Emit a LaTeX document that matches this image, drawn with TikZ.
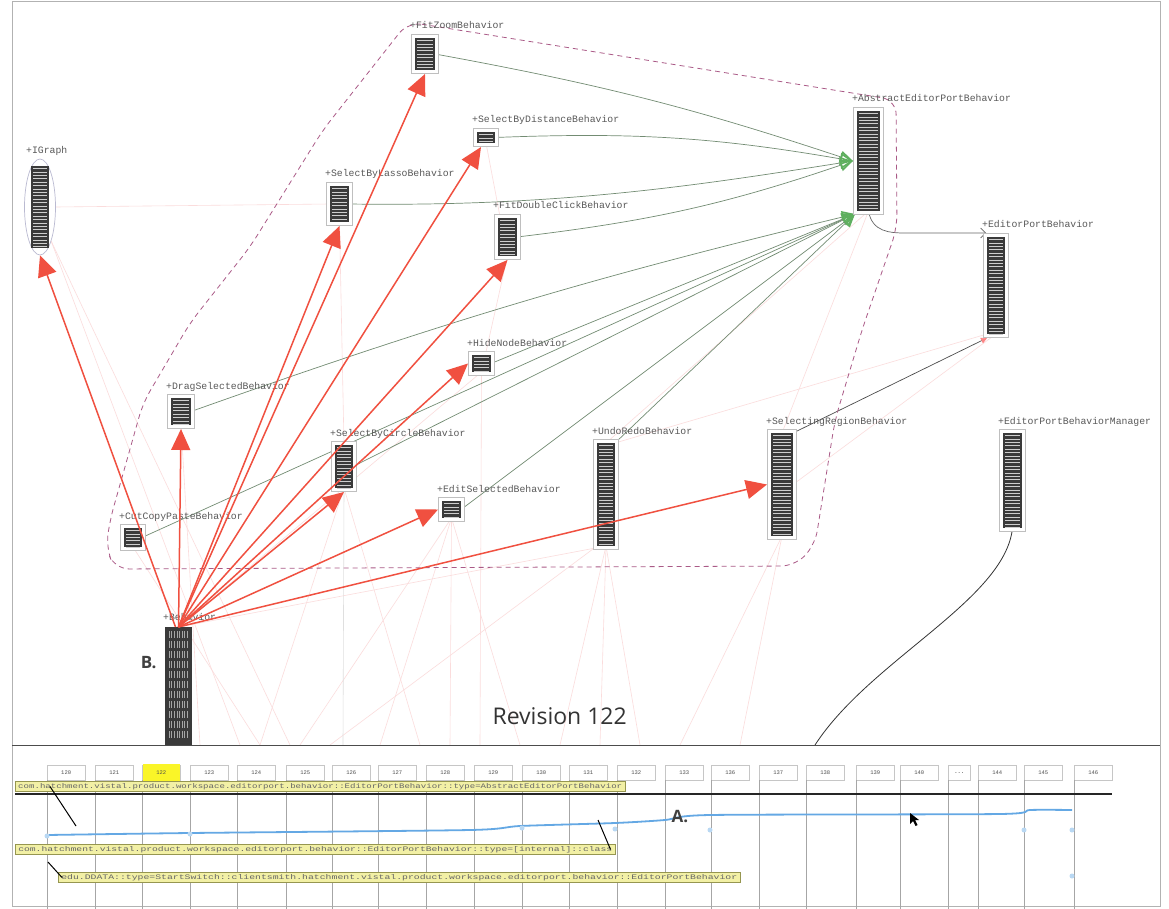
\documentclass[tikz,border=0pt]{standalone}
\usepackage{fontspec}
\setmonofont{Liberation Mono}
\newfontfamily\osans{Open Sans}
\usetikzlibrary{arrows.meta,shapes.geometric,backgrounds}
\definecolor{clsdark}{RGB}{58,58,58}
\definecolor{arrred}{RGB}{240,80,64}
\definecolor{inhgreen}{RGB}{95,175,95}
\definecolor{linkgray}{RGB}{115,140,115}
\definecolor{hullc}{RGB}{170,90,135}
\definecolor{faintpink}{RGB}{251,220,220}
\definecolor{tipyellow}{RGB}{242,240,165}
\definecolor{tipedge}{RGB}{150,150,80}
\definecolor{revblue}{RGB}{100,168,228}
\definecolor{hiyellow}{RGB}{250,245,40}
\tikzset{
 stripes/.style={path picture={\foreach \k in {0,...,40}{\draw[white!75!clsdark, line width=0.7pt] ([xshift=2pt,yshift=-2.5pt-\k*3.4pt]path picture bounding box.north west) -- ([xshift=-2pt,yshift=-2.5pt-\k*3.4pt]path picture bounding box.north east);}}},
 vstripes/.style={path picture={\foreach \k in {0,...,7}{\draw[white!55!clsdark, line width=0.6pt, dash pattern=on 7pt off 3pt] ([xshift=4pt+\k*2.6pt,yshift=-4pt]path picture bounding box.north west) -- ([xshift=4pt+\k*2.6pt,yshift=4pt]path picture bounding box.south west);}}},
 cls/.style={fill=clsdark, draw=none, inner sep=0pt, outer sep=0pt, stripes},
 clsframe/.style={draw=gray!50, fill=white, line width=0.7pt},
 lbl/.style={font=\ttfamily\fontsize{9.8}{10}\selectfont, text=black!65, inner sep=0pt},
 redarrow/.style={draw=arrred, line width=1.5pt, -{Triangle[length=21pt,width=19pt]}},
 faint/.style={draw=faintpink, line width=0.6pt},
 gen/.style={draw=linkgray, line width=0.7pt},
 inh/.style={gen, -{Triangle[open,length=13pt,width=12pt,line width=1.6pt,color=inhgreen]}},
 hull/.style={draw=hullc, line width=0.8pt, dash pattern=on 5pt off 4pt},
 revbox/.style={draw=gray!45, fill=white, minimum width=38pt, minimum height=15pt, inner sep=0pt, font=\ttfamily\fontsize{5.5}{6}\selectfont, text=black!70},
 tipbar/.style={draw=tipedge, fill=tipyellow, line width=0.5pt, inner xsep=3pt, inner ysep=1.8pt, anchor=west, text=black!60},
 pointer/.style={draw=black, line width=1pt},
}
\newcommand\clsbox[6]{%
 \draw[clsframe] (#2-3.5,#3-3.5) rectangle (#2+#4+3.5,#3+#5+3.5);
 \node[cls, minimum width=#4pt, minimum height=#5pt, anchor=north west] (#1) at (#2,#3) {};
 \node[lbl, anchor=base west] (#1-l) at (#2-5,#3-9) {#6};
}
\begin{document}
\begin{tikzpicture}[x=1pt,y=-1pt]
\useasboundingbox (0,0) rectangle (1169,909);
\begin{scope}[on background layer]
\fill[white] (0,0) rectangle (1169,909);
\end{scope}
\draw[gray!60, line width=0.8pt] (12,1) rectangle (1160,906);

% dashed hull
\draw[hull, rounded corners=14pt] (408,22) -- (896,100) -- (897,228) -- (862,330) -- (835,420) -- (815,545) -- (795,566) -- (115,569) -- (106,548) -- (110,520) -- (143,403) -- (190,323) -- (250,247) -- (323,130) -- cycle;

% class boxes
\clsbox{fz}{415}{38}{20}{32}{+FitZoomBehavior}
\clsbox{sbd}{477}{132}{18}{11}{+SelectByDistanceBehavior}
\clsbox{sbl}{330}{186}{19}{36}{+SelectByLassoBehavior}
\clsbox{fdc}{498}{218}{19}{38}{+FitDoubleClickBehavior}
\clsbox{abs}{857}{111}{23}{100}{+AbstractEditorPortBehavior}
\clsbox{epb}{987}{237}{18}{97}{+EditorPortBehavior}
\clsbox{hn}{472}{355}{19}{17}{+HideNodeBehavior}
\clsbox{ds}{171}{398}{20}{27}{+DragSelectedBehavior}
\clsbox{sbc}{335}{445}{18}{43}{+SelectByCircleBehavior}
\clsbox{ur}{597}{443}{18}{103}{+UndoRedoBehavior}
\clsbox{sr}{771}{433}{22}{103}{+SelectingRegionBehavior}
\clsbox{epm}{1003}{433}{19}{95}{+EditorPortBehaviorManager}
\clsbox{es}{442}{501}{19}{17}{+EditSelectedBehavior}
\clsbox{ccp}{124}{528}{18}{19}{+CutCopyPasteBehavior}
\node[cls, vstripes, stripes/.style={}, minimum width=27pt, minimum height=118pt, anchor=north west] (B) at (165,627) {};
\node[lbl, anchor=base west] (B-l) at (163,620) {+Behavior};
\node[ellipse, draw=blue!20!gray!45, fill=white, line width=0.7pt, minimum width=31pt, minimum height=96pt] (igf) at (40,207) {};
\node[cls, minimum width=18pt, minimum height=82pt] (ig) at (40,207) {};
\node[lbl, anchor=base west] (ig-l) at (26,154) {+IGraph};

% separator
\draw[black!70, line width=1pt] (12,745) -- (1160,745);
\foreach \x [count=\i] in {200,240,260,290,300,330,343,380,420,450,480,520,560,600,640,680,700,740,815}
  \coordinate (p\i) at (\x,745);

\begin{scope}[on background layer]
% faint links
\draw[faint] (igf.south east) -- (p4);
\draw[faint] (igf.south east) -- (p2);
\draw[faint] (igf.east) -- (sbl.west);
\draw[faint] (p3) -- (sbc.south);
\draw[faint] (p9) -- (sbc.south);
\draw[faint] (p5) -- (es.south);
\draw[faint] (p8) -- (es.south);
\draw[faint] (p10) -- (es.south);
\draw[faint] (p12) -- (es.south);
\draw[faint] (p13) -- (ur.south);
\draw[faint] (p14) -- (ur.south);
\draw[faint] (p15) -- (ur.south);
\draw[faint] (p16) -- (sr.south);
\draw[faint] (p18) -- (sr.south);
\draw[faint] (p11) -- (hn.south);
\draw[faint] (p6) -- (ur.south west);
\draw[faint] (hn.south) -- (fdc.south);
\draw[faint] (sbc.north) -- (sbl.south);
\draw[faint] (B.north) -- (ur.south);
\draw[faint] (B.north) -- (hn.south);
\draw[faint] (ur.north) -- (abs.south);
\draw[faint] (sr.north) -- (abs.south);
\draw[faint] (ur.north east) -- (epb.south west);
\draw[faint] (sr.east) -- (epb.south);
\draw[faint] (ds.south) -- (p1);
\draw[faint] (ccp.south) -- (p3);
\draw[faint] (fdc.south) -- (sbd.south);
\draw[gray!25, line width=0.6pt] (sbc.south) -- (p7);
% inheritance links
\draw[inh] (fz.east) to[bend left=4] ([xshift=-4pt]abs.west);
\draw[inh] (sbd.east) to[bend left=6] ([xshift=-4pt]abs.west);
\draw[inh] (sbl.east) .. controls (560,207) and (700,185) .. ([xshift=-4pt]abs.west);
\draw[inh] (fdc.east) to[bend right=6] ([xshift=-4pt]abs.west);
\draw[inh] (ds.east) to[bend left=3] ([xshift=-2pt,yshift=-3pt]abs.south west);
\draw[inh] (hn.east) -- ([xshift=-2pt,yshift=-3pt]abs.south west);
\draw[inh] (sbc.east) -- ([xshift=-2pt,yshift=-3pt]abs.south west);
\draw[inh] (ccp.east) -- ([xshift=-2pt,yshift=-3pt]abs.south west);
\draw[inh] (es.east) -- ([xshift=-2pt,yshift=-3pt]abs.south west);
\draw[inh] (ur.north east) -- ([xshift=-2pt,yshift=-3pt]abs.south west);
% other links
\draw[gray!80!black, line width=0.7pt, -{Straight Barb[length=5pt]}] (abs.south) .. controls (872,232) and (890,233) .. (905,233) -- ([xshift=-1pt,yshift=4pt]epb.north west);
\draw[black!70, line width=0.7pt, -{Triangle[length=6pt,width=6pt,color=faintpink!60!red]}] (sr.north east) -- ([yshift=-4pt]epb.south west);
\draw[black!80, line width=0.8pt] (epm.south) .. controls (1005,600) and (870,660) .. (p19);
\end{scope}

% red dependency arrows from Behavior
\draw[redarrow] ([xshift=-3pt]B.north) -- (igf.south);
\draw[redarrow] (B.north) -- ([yshift=-4pt]ds.south);
\draw[redarrow] (B.north) -- ([yshift=-4pt]fz.south);
\draw[redarrow] (B.north) -- ([yshift=-4pt]sbl.south);
\draw[redarrow] (B.north) -- ([xshift=-5pt,yshift=-4pt]sbd.south);
\draw[redarrow] (B.north) -- ([yshift=-4pt]fdc.south);
\draw[redarrow] (B.north) -- ([xshift=-4pt]hn.west);
\draw[redarrow] (B.north) -- ([yshift=-4pt]sbc.south);
\draw[redarrow] (B.north) -- ([xshift=-4pt]es.west);
\draw[redarrow] (B.north) -- ([xshift=-4pt]sr.west);

% annotations
\node[font=\osans\fontsize{23}{25}\selectfont, text=black!80, anchor=base west] (rev) at (489,724) {Revision 122};
\node[font=\osans\bfseries\fontsize{17}{19}\selectfont, text=black!75, anchor=base east] (labB) at (160,668) {B.};

% timeline
\foreach \x/\t in {47/120,95/121,142/122,190/123,237/124,286/125,332/126,378/127,426/128,474/129,522/130,569/131,617/132,665/133,711/136,759/137,806/138,856/139,900/140,978/144,1024/145,1074/146}{
  \node[revbox, anchor=north west] (r\t) at (\x,765) {\t};
  \draw[gray!70, line width=0.6pt] (r\t.south west) -- ++(0,130);
}
\node[revbox, anchor=north west, minimum width=22pt] (rdots) at (948,765) {\textbf{...}};
\draw[gray!70, line width=0.6pt] (rdots.south west) -- ++(0,130);
\fill[hiyellow] ([shift={(0.6,-0.6)}]r122.north west) rectangle ([shift={(-0.6,0.6)}]r122.south east);
\node[font=\ttfamily\fontsize{5.5}{6}\selectfont, text=black!70] at (r122) {122};

\node[tipbar] (t1) at (15,786.5) {\resizebox{604pt}{5pt}{\ttfamily com.hatchment.vistal.product.workspace.editorport.behavior::EditorPortBehavior::type=AbstractEditorPortBehavior}};
\draw[black!85, line width=1.3pt] (15,794) -- (1112,794);
\node[tipbar] (t2) at (15,849.5) {\resizebox{594pt}{5pt}{\ttfamily com.hatchment.vistal.product.workspace.editorport.behavior::EditorPortBehavior::type=[internal]::class}};
\node[tipbar] (t3) at (58,877.5) {\resizebox{676pt}{5pt}{\ttfamily edu.DDATA::type=StartSwitch::clientsmith.hatchment.vistal.product.workspace.editorport.behavior::EditorPortBehavior}};

% revision curve
\draw[revblue, line width=1.8pt] plot[smooth, tension=0.4] coordinates {(47,835) (190,833) (470,830) (520,826) (615,823) (665,820) (710,815) (1000,814) (1030,810) (1072,810)};
\foreach \x/\y in {47/836,190/834,522/828,615/829,710/830,1024/830,1072/830,1072/876}
  \fill[revblue!45] (\x,\y) circle (2.5);

\draw[pointer] ([xshift=35pt]t1.west) -- (76,826);
\draw[pointer] ([xshift=-5pt]t2.east) -- (598,820);
\draw[pointer] (48,862) -- ([xshift=4pt]t3.west);
\node[font=\osans\bfseries\fontsize{17}{19}\selectfont, text=black!75, anchor=base west] (labA) at (668,822) {A.};
\fill[black] (910,813) -- (910,824) -- (913,821) -- (915.5,826) -- (917.5,825) -- (915,820) -- (919,820) -- cycle;
\end{tikzpicture}
\end{document}
